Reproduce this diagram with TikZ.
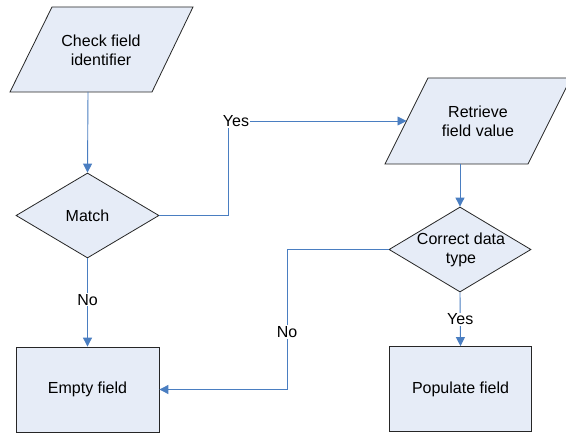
\documentclass[tikz,border=0pt]{standalone}
\usepackage{fontspec}
\setmainfont{Liberation Sans}
\usetikzlibrary{arrows.meta,shapes.geometric}
\definecolor{shapefill}{RGB}{230,236,247}
\definecolor{linkblue}{RGB}{74,126,193}
\begin{document}
\begin{tikzpicture}[x=1pt,y=-1pt,font=\fontsize{16}{19}\selectfont,
  shapebox/.style={draw=black!85,fill=shapefill,line width=0.8pt},
  link/.style={draw=linkblue,line width=0.9pt},
  arrowlink/.style={link,-{Triangle[length=9pt,width=9pt]}},
  lbl/.style={fill=white,inner sep=1pt}]
\useasboundingbox (0,0) rectangle (566,433);
\clip (0,0) rectangle (566,433);
\fill[white] (0,0) rectangle (566,433);
% input/output shapes
\draw[shapebox] (52,7) -- (193,7) -- (152,92) -- (10,92) -- cycle;
\node[align=center] (p1) at (101,50) {Check field\\identifier};
\coordinate (p1b) at (88,92);
\draw[shapebox] (428,78) -- (571,78) -- (528,164) -- (385,164) -- cycle;
\node[align=center] (p2) at (478,121) {Retrieve\\field value};
\coordinate (p2l) at (406.5,121);
\coordinate (p2b) at (460,164);
% decisions
\node[diamond,shapebox,minimum width=143pt,minimum height=85pt,inner sep=0pt] (m) at (87.5,215.5) {Match};
\node[diamond,shapebox,minimum width=142pt,minimum height=85pt,inner sep=0pt] (d2) at (460,249.5) {};
\node[align=center] (d2t) at (461,249.5) {Correct data\\type};
% processes
\node[shapebox,minimum width=143pt,minimum height=85pt] (e) at (87.5,389.5) {Empty field};
\node[shapebox,minimum width=142pt,minimum height=85pt] (pop) at (460.5,389) {Populate field};
% connectors
\coordinate (c1) at (228,121);
\coordinate (c2) at (287,249.5);
\draw[arrowlink] (p1b) -- (m.north);
\draw[arrowlink] (m.east) -| (c1) -- (p2l);
\draw[arrowlink] (p2b) -- (d2.north);
\draw[arrowlink] (d2.south) -- (pop.north) node[lbl,midway] {Yes};
\draw[arrowlink] (d2.west) -- (c2) |- (e.east);
\draw[arrowlink] (m.south) -- (e.north) node[lbl,pos=0.47] {No};
\node[lbl] (yes1) at (236,121) {Yes};
\node[lbl] (no2) at (287,332) {No};
\end{tikzpicture}
\end{document}
